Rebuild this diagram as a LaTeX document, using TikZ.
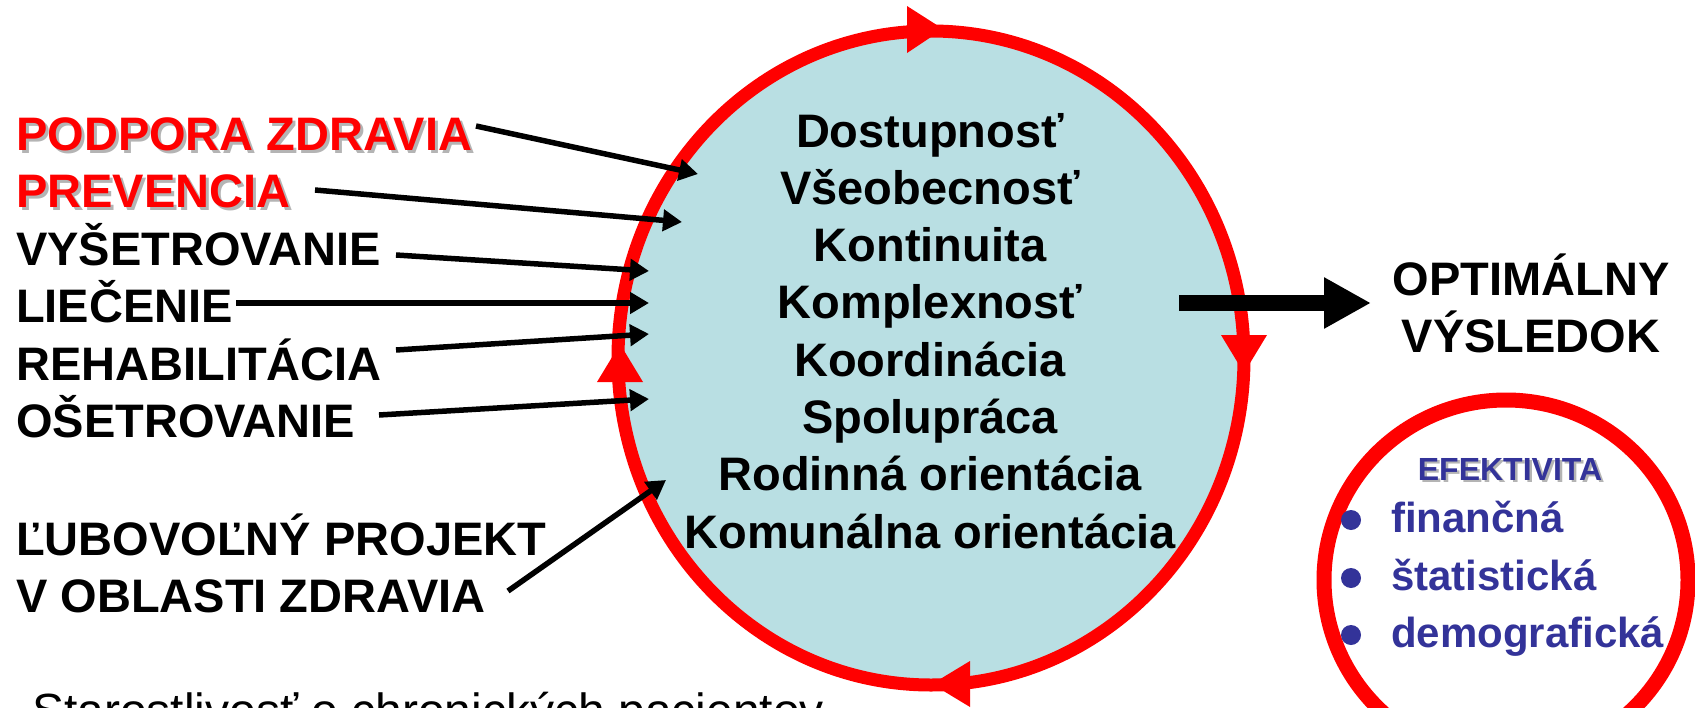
\documentclass[tikz,border=0pt]{standalone}
\usepackage{fontspec}
\setmainfont{Liberation Sans}
\usetikzlibrary{arrows.meta}
\definecolor{ringred}{HTML}{FF0000}
\definecolor{fillblue}{HTML}{B9DFE3}
\definecolor{effblue}{HTML}{333399}
\definecolor{shadowgray}{HTML}{B4B4B4}
\begin{document}
\begin{tikzpicture}[x=1pt,y=-1pt,
  big/.style={inner sep=0pt, font=\fontsize{47}{57}\selectfont\bfseries},
  lefttxt/.style={big, anchor=base west},
  midtxt/.style={big, anchor=base},
  redtxt/.style={lefttxt, text=ringred},
  shadowtxt/.style={text=shadowgray},
  efftxt/.style={inner sep=0pt, anchor=base, font=\fontsize{32}{38}\selectfont\bfseries},
  bluetxt/.style={inner sep=0pt, anchor=base west, text=effblue, font=\fontsize{42}{50}\selectfont\bfseries},
  ring/.style={draw=ringred, line width=13pt},
  ringtip/.style={fill=ringred},
  feed/.style={line width=5.5pt, -{Triangle[length=19pt,width=21pt]}},
  bullet/.style={circle, fill=effblue, inner sep=0pt, minimum size=20pt}
]
\useasboundingbox (0,0) rectangle (1695,707);
\clip (0,0) rectangle (1695,707);

% big cycle
\draw[ring, fill=fillblue] (931,358) ellipse [x radius=313pt, y radius=327pt];
\fill[ringtip] (943,29) -- (907,6) -- (907,53) -- cycle;
\fill[ringtip] (1244,373) -- (1221,335) -- (1267,335) -- cycle;
\fill[ringtip] (932,684) -- (970,661) -- (970,707) -- cycle;
\fill[ringtip] (620,344) -- (597,382) -- (643,382) -- cycle;

% centre text
\node[midtxt] (c1) at (930,147) {Dostupnosť};
\node[midtxt] (c2) at (930,204) {Všeobecnosť};
\node[midtxt] (c3) at (930,261) {Kontinuita};
\node[midtxt] (c4) at (930,318) {Komplexnosť};
\node[midtxt] (c5) at (930,376) {Koordinácia};
\node[midtxt] (c6) at (930,433) {Spolupráca};
\node[midtxt] (c7) at (930,490) {Rodinná orientácia};
\node[midtxt] (c8) at (930,548) {Komunálna orientácia};

% left text
\node[lefttxt, shadowtxt] (l1s) at (19,153) {PODPORA ZDRAVIA};
\node[redtxt] (l1) at (16,150) {PODPORA ZDRAVIA};
\node[lefttxt, shadowtxt] (l2s) at (19,210.5) {PREVENCIA};
\node[redtxt] (l2) at (16,207.5) {PREVENCIA};
\node[lefttxt] (l3) at (16,265) {VYŠETROVANIE};
\node[lefttxt] (l4) at (16,322.5) {LIEČENIE};
\node[lefttxt] (l5) at (16,380) {REHABILITÁCIA};
\node[lefttxt] (l6) at (16,437.5) {OŠETROVANIE};
\node[lefttxt] (l7) at (16,555) {ĽUBOVOĽNÝ PROJEKT};
\node[lefttxt] (l8) at (16,612.5) {V OBLASTI ZDRAVIA};

\node[inner sep=0pt, anchor=base west, font=\fontsize{48}{58}\selectfont] (bottom) at (32,727) {Starostlivosť o chronických pacientov};

% feed arrows
\coordinate (s1) at (476,126); \coordinate (e1) at (698,174);
\coordinate (s2) at (315,190); \coordinate (e2) at (682,222);
\coordinate (s3) at (396,255); \coordinate (e3) at (649,271);
\coordinate (s4) at (236,303); \coordinate (e4) at (649,303);
\coordinate (s5) at (396,350); \coordinate (e5) at (649,334);
\coordinate (s6) at (379,415); \coordinate (e6) at (649,399);
\coordinate (s7) at (508,591); \coordinate (e7) at (666,480);
\foreach \i in {1,...,7} { \draw[feed] (s\i) -- (e\i); }

% result
\node[midtxt] (o1) at (1531,295) {OPTIMÁLNY};
\node[midtxt] (o2) at (1531,352) {VÝSLEDOK};
\coordinate (as) at (1179,303);
\coordinate (ae) at (1371,303);
\draw[line width=16pt, -{Triangle[length=47pt,width=48pt]}] (as) -- (ae);

% efficiency
\draw[ringred, line width=15pt] (1506,580) ellipse [x radius=182pt, y radius=180pt];
\node[efftxt, shadowtxt] (effs) at (1512.5,482.5) {EFEKTIVITA};
\node[efftxt, text=effblue] (eff) at (1510,480) {EFEKTIVITA};
\node[bullet] (b1) at (1351,520) {};
\node[bullet] (b2) at (1351,578) {};
\node[bullet] (b3) at (1351,635) {};
\node[bluetxt] (f1) at (1391,532) {finančná};
\node[bluetxt] (f2) at (1391,590) {štatistická};
\node[bluetxt] (f3) at (1391,647) {demografická};
\end{tikzpicture}
\end{document}
